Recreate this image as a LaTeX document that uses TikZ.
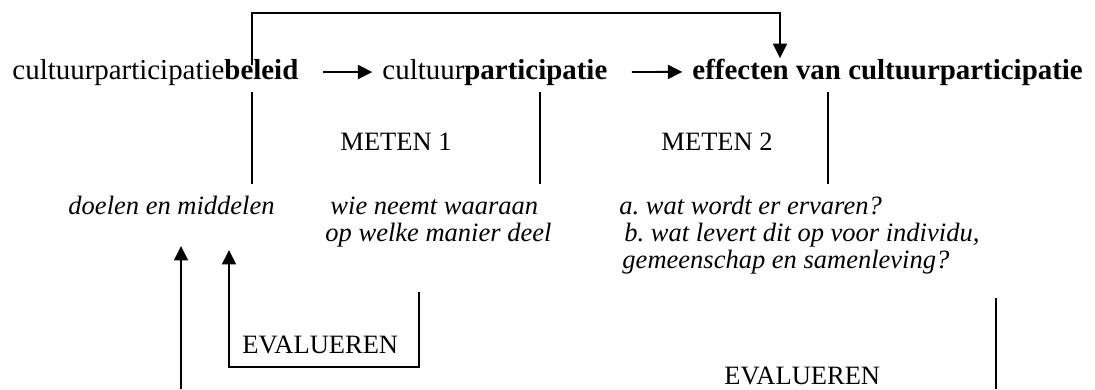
\documentclass[tikz,border=0pt]{standalone}
\usepackage{fontspec}
\setmainfont{Liberation Serif}
\usetikzlibrary{arrows.meta}
\frenchspacing

\begin{document}
\begin{tikzpicture}[x=0.415pt, y=-0.415pt,
    every node/.style={inner sep=0pt, anchor=base west, font=\fontsize{11}{13}\selectfont},
    keten/.style={font=\fontsize{12}{14}\selectfont},
    line/.style={line width=0.8pt},
    arr/.style={line width=0.8pt, -{Triangle[length=6pt,width=5.8pt]}},
    vraag/.style={font=\fontsize{11}{13}\selectfont\itshape}]
  \useasboundingbox (0,0) rectangle (1095,389);
  % keten
  \node[keten] (beleid) at (12,79) {cultuurparticipatie\textbf{beleid}};
  \node[keten] (part) at (382,79) {cultuur\textbf{participatie}};
  \node[keten] (eff) at (692,79) {\textbf{effecten van cultuurparticipatie}};
  \draw[arr, shorten <=10pt, shorten >=4pt] (beleid.east) -- (part.west);
  \draw[arr, shorten <=10pt, shorten >=4pt] (part.east) -- (eff.west);
  % terugkoppeling boven
  \coordinate (fb0) at (252,65);
  \coordinate (fb1) at (252,13);
  \coordinate (fb2) at (780,13);
  \draw[arr] (fb0) -- (fb1) -- (fb2) -- (fb2 |- eff.north);
  % meten
  \node (meten1) at (340,150) {METEN 1};
  \node (meten2) at (661,150) {METEN 2};
  \coordinate (s1t) at (252,92);
  \coordinate (s1b) at (252,184);
  \coordinate (s2t) at (540,92);
  \coordinate (s2b) at (540,184);
  \coordinate (s3t) at (828,92);
  \coordinate (s3b) at (828,184);
  \draw[line] (s1t) -- (s1b);
  \draw[line] (s2t) -- (s2b);
  \draw[line] (s3t) -- (s3b);
  % vragen
  \node[vraag] (doelen) at (68,214) {doelen en middelen};
  \node[vraag] (wie) at (330,214) {wie neemt waaraan};
  \node[vraag] (welke) at (325,241) {op welke manier deel};
  \node[vraag] (vraaga) at (619,214) {a. wat wordt er ervaren?};
  \node[vraag] (vraagb) at (624,241) {b. wat levert dit op voor individu,};
  \node[vraag] (vraagc) at (622,268) {gemeenschap en samenleving?};
  % evalueren
  \node (eval1) at (242,353) {EVALUEREN};
  \node (eval2) at (724,384) {EVALUEREN};
  \coordinate (e1a) at (419,292);
  \coordinate (e1b) at (419,367);
  \coordinate (e1c) at (229,367);
  \coordinate (e1d) at (229,250);
  \draw[arr] (e1a) -- (e1b) -- (e1c) -- (e1d);
  \coordinate (e2a) at (996,298);
  \coordinate (e2b) at (996,389);
  \coordinate (e2c) at (181,389);
  \coordinate (e2d) at (181,246);
  \draw[line] (e2a) -- (e2b);
  \draw[arr] (e2c) -- (e2d);
\end{tikzpicture}
\end{document}
